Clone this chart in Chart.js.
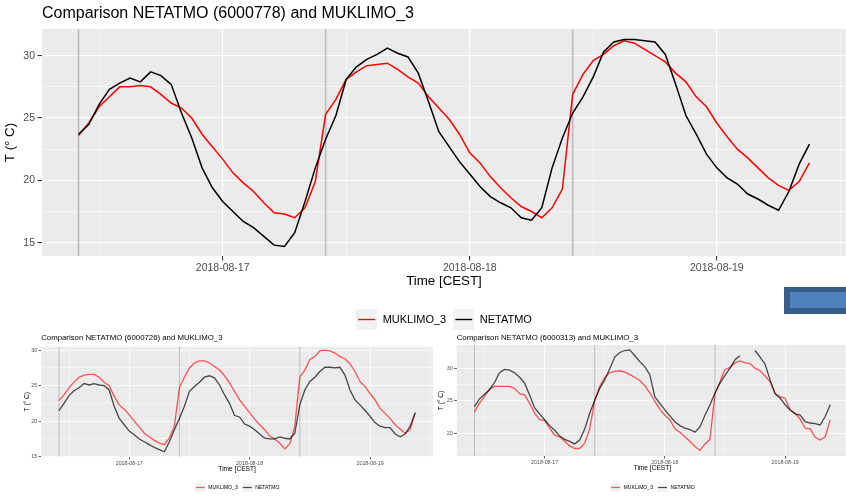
<!DOCTYPE html>
<html>
<head>
<meta charset="utf-8">
<script src="https://cdn.jsdelivr.net/npm/chart.js@4.4.0/dist/chart.umd.min.js"></script>
<style>
  html, body { margin: 0; padding: 0; background: #fff; width: 846px; height: 498px; overflow: hidden; position: relative; }
  .wrap { position: absolute; }
  #blueBtn { position: absolute; left: 784px; top: 287px; width: 62px; height: 27px; background: #385D8A; }
  #blueBtn div { position: absolute; left: 6px; top: 5px; right: 0; bottom: 6px; background: #4F81BD; }
</style>
</head>
<body>
<div class="wrap" style="left:0;top:0"><canvas id="chart-main" width="846" height="335"></canvas></div>
<div class="wrap" style="left:0;top:328px"><canvas id="chart-726" width="433" height="172"></canvas></div>
<div class="wrap" style="left:433px;top:328px"><canvas id="chart-313" width="415" height="172"></canvas></div>
<div id="blueBtn"><div></div></div>

<script>
/* ── hours relative to 2018-08-17 00:00 CEST (hourly samples) ── */
const hours = [-14,-13,-12,-11,-10,-9,-8,-7,-6,-5,-4,-3,-2,-1,0,1,2,3,4,5,6,7,8,9,
  10,11,12,13,14,15,16,17,18,19,20,21,22,23,24,25,26,27,28,29,30,31,32,33,
  34,35,36,37,38,39,40,41,42,43,44,45,46,47,48,49,50,51,52,53,54,55,56,57];

const dateHours  = [0, 24, 48];
const dateLabels = ['2018-08-17', '2018-08-18', '2018-08-19'];
const xGridHours = [-12, 0, 12, 24, 36, 48, 60];
const dayMarks   = [-14, 10, 34];   // grey vertical lines

// ── station 6000778 (big chart) ──
const muklimo778 = [23.6,24.6,25.9,26.7,27.5,27.5,27.6,27.5,26.9,26.2,25.8,25.0,
  23.7,22.7,21.7,20.6,19.8,19.1,18.2,17.4,17.3,17.0,17.8,19.9,
  25.3,26.5,28.1,28.7,29.2,29.3,29.4,28.9,28.3,27.8,26.7,25.8,
  24.9,23.7,22.2,21.4,20.3,19.4,18.6,17.9,17.5,17.0,17.8,19.3,
  26.9,28.5,29.6,30.1,30.8,31.2,31.0,30.5,30.0,29.5,28.6,27.9,
  26.7,25.9,24.6,23.5,22.5,21.8,21.0,20.2,19.6,19.2,19.9,21.4];
const netatmo778 = [23.7,24.5,26.1,27.3,27.8,28.2,27.9,28.7,28.4,27.7,25.4,23.4,
  21.0,19.4,18.3,17.5,16.7,16.2,15.5,14.8,14.7,15.8,18.3,21.0,
  23.3,25.2,28.1,29.1,29.7,30.1,30.6,30.2,29.9,28.6,26.3,23.9,
  22.7,21.5,20.5,19.5,18.7,18.2,17.8,17.0,16.8,17.8,21.0,23.4,
  25.4,26.7,28.3,30.3,31.1,31.3,31.3,31.2,31.1,30.1,27.7,25.2,
  23.7,22.1,21.0,20.2,19.7,18.9,18.5,18.0,17.6,19.1,21.3,22.9];

// ── station 6000726 (bottom left) ──
const muklimo726 = [22.9,23.7,24.7,25.5,26.2,26.5,26.6,26.6,26.2,25.5,25.0,23.5,
  22.3,21.7,20.9,20.0,19.2,18.3,17.8,17.3,16.9,16.7,17.6,19.3,
  24.7,26.2,27.5,28.2,28.5,28.5,28.2,27.7,27.2,26.4,25.4,24.2,
  23.0,22.1,21.2,20.3,19.5,18.8,17.9,17.5,16.9,16.1,16.8,19.3,
  26.2,27.2,28.7,29.1,29.9,30.0,29.9,29.6,29.1,28.8,28.1,27.0,
  25.6,24.9,23.9,23.0,21.8,21.1,20.4,19.5,18.9,18.3,18.8,21.2];
const netatmo726 = [21.5,22.5,23.6,24.3,24.7,25.3,25.1,25.3,25.1,25.0,24.4,22.1,
  20.4,19.5,18.6,18.1,17.5,17.1,16.7,16.3,16.0,15.7,17.1,18.8,
  20.4,22.1,24.2,24.9,25.5,26.2,26.4,26.1,25.1,23.7,22.5,20.8,
  20.6,19.6,19.3,18.8,18.2,17.6,17.5,17.5,17.8,17.6,17.5,18.3,
  22.3,24.4,25.6,26.2,27.0,27.6,27.6,27.5,27.6,26.5,24.4,23.0,
  22.3,21.5,20.7,19.8,19.3,19.1,19.1,18.2,17.8,18.2,19.3,21.2];

// ── station 6000313 (bottom right), gap in NETATMO ──
const muklimo313 = [23.3,24.6,25.7,26.8,27.2,27.2,27.2,27.2,26.9,26.1,25.9,24.6,
  23.1,22.1,22.0,20.8,19.7,19.5,18.8,18.1,17.7,17.7,18.5,20.7,
  25.1,27.2,28.6,29.3,29.5,29.6,29.4,29.0,28.6,28.1,27.3,26.2,
  24.9,23.7,22.8,22.1,20.7,20.2,19.5,18.8,18.0,17.4,18.4,19.1,
  26.1,27.9,29.8,30.1,30.8,31.1,30.8,30.7,30.0,29.6,28.8,27.9,
  26.1,25.6,25.4,23.6,23.1,22.2,20.8,20.7,19.4,19.0,19.5,22.1];
const netatmo313 = [24.1,25.3,26.0,26.7,27.8,29.3,29.8,29.7,29.3,28.6,27.7,25.9,
  23.9,23.0,22.1,21.2,20.5,19.6,19.1,18.8,18.4,19.0,20.7,23.1,
  25.1,26.9,28.2,29.9,31.7,32.4,32.7,32.8,31.9,31.0,30.2,29.0,
  25.6,24.6,23.6,22.7,21.8,21.2,20.8,20.6,20.2,21.0,22.8,24.4,
  26.2,27.7,28.9,30.0,31.3,31.9,null,null,32.7,31.7,30.6,28.2,
  26.1,25.4,24.4,23.6,23.0,22.8,21.8,21.6,21.5,21.3,22.6,24.4];

Chart.defaults.font.family = "'Liberation Sans', Arial, sans-serif";
Chart.defaults.animation = false;

/* grey ggplot panel */
const panelBg = {
  id: 'panelBg',
  beforeDraw(chart) {
    const { ctx, chartArea: a } = chart;
    ctx.save();
    ctx.fillStyle = '#EBEBEB';
    ctx.fillRect(a.left, a.top, a.right - a.left, a.bottom - a.top);
    ctx.restore();
  }
};

/* vertical grey lines at the day marks */
const dayLines = {
  id: 'dayLines',
  beforeDatasetsDraw(chart, args, opts) {
    const { ctx, chartArea: a, scales: { x } } = chart;
    ctx.save();
    ctx.strokeStyle = opts.color;
    ctx.lineWidth = opts.width;
    (opts.values || []).forEach(v => {
      const px = x.getPixelForValue(v);
      ctx.beginPath();
      ctx.moveTo(px, a.top);
      ctx.lineTo(px, a.bottom);
      ctx.stroke();
    });
    ctx.restore();
  }
};

// ggplot-like legend key: grey square with a line through it
function legendKey(w, h, color, lw) {
  const c = document.createElement('canvas');
  c.width = w; c.height = h;
  const g = c.getContext('2d');
  g.fillStyle = '#F2F2F2';
  g.fillRect(0, 0, w, h);
  g.strokeStyle = color;
  g.lineWidth = lw;
  g.beginPath();
  g.moveTo(w * 0.1, h / 2);
  g.lineTo(w * 0.9, h / 2);
  g.stroke();
  return c;
}

const pts = vals => hours.map((h, i) => ({ x: h, y: vals[i] }));

function makeChart(canvasId, s) {
  const el = document.getElementById(canvasId);
  if (!el) return null;
  const isMajorX = v => dateHours.includes(v);
  const isMajorY = v => v % 5 === 0;
  return new Chart(el, {
    type: 'line',
    data: {
      datasets: [
        { label: 'MUKLIMO_3', data: pts(s.model), borderColor: s.red, borderWidth: s.lw,
          pointRadius: 0, pointStyle: legendKey(s.keyW, s.keyH, s.red, s.keyLw), tension: 0, order: 1 },
        { label: 'NETATMO', data: pts(s.obs), borderColor: s.black, borderWidth: s.lw,
          pointRadius: 0, pointStyle: legendKey(s.keyW, s.keyH, s.black, s.keyLw), tension: 0, order: 0, spanGaps: false },
      ],
    },
    options: {
      responsive: false,
      events: [],
      layout: { padding: 0 },
      plugins: {
        tooltip: { enabled: false },
        title: {
          display: true, text: s.title, align: 'start', fullSize: false, color: '#000',
          font: { size: s.titleFont, weight: 'normal' }, padding: { top: s.titlePadT, bottom: s.titlePadB },
        },
        legend: {
          position: 'bottom', fullSize: false,
          labels: {
            usePointStyle: true, pointStyleWidth: s.keyW, padding: s.legPad, color: '#000',
            font: { size: s.legFont }, sort: (a, b) => a.datasetIndex - b.datasetIndex,
          },
        },
        dayLines: { values: dayMarks, color: s.markColor, width: s.markW },
      },
      scales: {
        x: {
          type: 'linear', min: -17.55, max: 60.55,
          afterBuildTicks: sc => { sc.ticks = xGridHours.map(v => ({ value: v })); },
          afterFit: sc => { sc.height = s.xAxisH; },
          border: { display: false },
          grid: {
            color: '#FFFFFF',
            lineWidth: c => isMajorX(c.tick.value) ? s.gridMajor : s.gridMinor,
            tickColor: c => isMajorX(c.tick.value) ? '#333333' : 'rgba(0,0,0,0)',
            tickLength: s.tickLen,
          },
          ticks: {
            autoSkip: false, maxRotation: 0, padding: s.tickPadX, color: '#4D4D4D',
            font: { size: s.tickFont },
            callback: v => { const i = dateHours.indexOf(v); return i >= 0 ? dateLabels[i] : ''; },
          },
          title: {
            display: true, text: 'Time [CEST]', color: '#000', font: { size: s.axisFont },
            padding: { top: 0, bottom: s.xTitlePad },
          },
        },
        y: {
          min: s.yMin, max: s.yMax,
          afterBuildTicks: sc => { sc.ticks = s.yGrid.map(v => ({ value: v })); },
          afterFit: sc => { sc.width = s.yAxisW; },
          border: { display: false },
          grid: {
            color: '#FFFFFF',
            lineWidth: c => isMajorY(c.tick.value) ? s.gridMajor : s.gridMinor,
            tickColor: c => isMajorY(c.tick.value) ? '#333333' : 'rgba(0,0,0,0)',
            tickLength: s.tickLen,
          },
          ticks: {
            padding: s.tickPadY, color: '#4D4D4D', font: { size: s.tickFont },
            callback: v => isMajorY(v) ? String(v) : '',
          },
          title: {
            display: true, text: 'T (° C)', color: '#000', font: { size: s.axisFont },
            padding: { top: s.yTitlePad, bottom: 0 },
          },
        },
      },
    },
    plugins: [panelBg, dayLines],
  });
}

const bigStyle = {
  red: '#FF0000', black: '#000000', lw: 1.5,
  keyW: 21, keyH: 21, keyLw: 1.4, legPad: 7, legFont: 11,
  titleFont: 16, titlePadT: 4.2, titlePadB: 5.6,
  tickFont: 10.5, axisFont: 13.3, tickLen: 4.5, tickPadX: 1.5, tickPadY: 2.5,
  xAxisH: 51, xTitlePad: 17.3, yAxisW: 42, yTitlePad: 2,
  gridMajor: 1.1, gridMinor: 0.55, markColor: 'rgba(150,150,150,0.55)', markW: 1.6,
};
const smallStyle = {
  red: 'rgba(255,30,30,0.75)', black: 'rgba(0,0,0,0.7)', lw: 1.3,
  keyW: 11, keyH: 9, keyLw: 1.2, legPad: 4, legFont: 5.1,
  titleFont: 7.8, tickFont: 5.3, axisFont: 6.6, tickLen: 2.5, tickPadX: 1, tickPadY: 1.5,
  gridMajor: 0.8, gridMinor: 0.4, markColor: 'rgba(150,150,150,0.55)', markW: 1,
};

makeChart('chart-main', Object.assign({}, bigStyle, {
  title: 'Comparison NETATMO (6000778) and MUKLIMO_3',
  model: muklimo778, obs: netatmo778,
  yMin: 13.93, yMax: 32.14, yGrid: [15, 17.5, 20, 22.5, 25, 27.5, 30],
}));

makeChart('chart-726', Object.assign({}, smallStyle, {
  title: 'Comparison NETATMO (6000726) and MUKLIMO_3',
  model: muklimo726, obs: netatmo726,
  titlePadT: 5.6, titlePadB: 3.7, xAxisH: 24.2, xTitlePad: 7.9, yAxisW: 41.2, yTitlePad: 23.5,
  yMin: 15, yMax: 30.5, yGrid: [15, 17.5, 20, 22.5, 25, 27.5, 30],
}));

makeChart('chart-313', Object.assign({}, smallStyle, {
  title: 'Comparison NETATMO (6000313) and MUKLIMO_3',
  model: muklimo313, obs: netatmo313,
  titlePadT: 5, titlePadB: 2.6, xAxisH: 24.9, xTitlePad: 8.6, yAxisW: 23.7, yTitlePad: 4.7,
  yMin: 16.55, yMax: 33.55, yGrid: [17.5, 20, 22.5, 25, 27.5, 30, 32.5],
}));
</script>
</body>
</html>
